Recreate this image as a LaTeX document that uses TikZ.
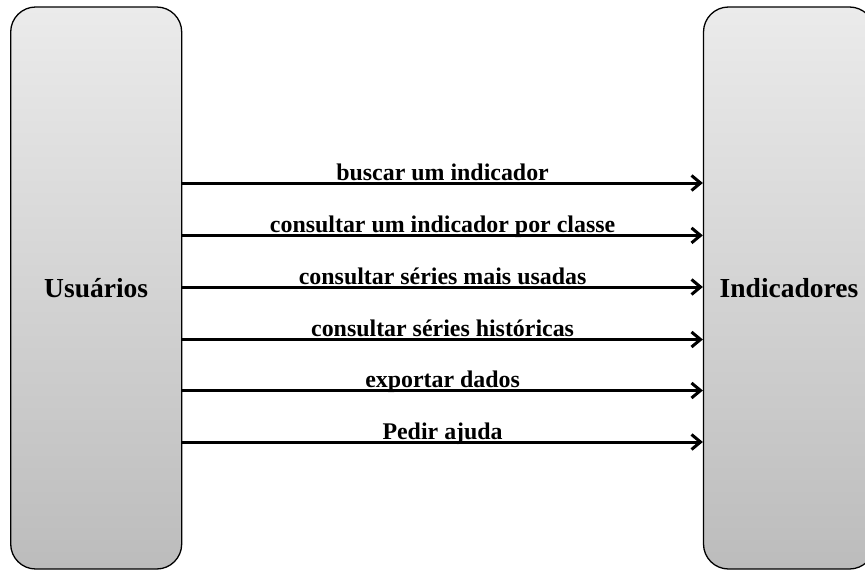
\documentclass[tikz,border=0pt]{standalone}
\usepackage{fontspec}
\setmainfont{Liberation Serif}
\usetikzlibrary{arrows.meta}

\definecolor{boxtop}{HTML}{EBEBEB}
\definecolor{boxbottom}{HTML}{BCBCBC}

\tikzset{
  actor/.style={draw=black, line width=1.3pt, rounded corners=25pt,
    top color=boxtop, bottom color=boxbottom,
    minimum width=#1, minimum height=562pt, inner sep=0pt,
    font=\fontsize{27.5}{32}\selectfont\bfseries},
  conn/.style={line width=3pt, -{Straight Barb[length=9pt,width=15pt,line width=3pt]}},
  msg/.style={midway, anchor=base, yshift=3pt, inner sep=0pt,
    font=\fontsize{23.9}{28}\selectfont\bfseries}
}

\begin{document}
\begin{tikzpicture}[x=1pt, y=-1pt]
  \useasboundingbox (0,0) rectangle (865,570);
  \clip (0,0) rectangle (865,570);

  % the two participants
  \node[actor=171pt] (users) at (96.2,288) {Usuários};
  \node[actor=171pt] (ind) at (789,288) {Indicadores};

  % rows of the messages
  \coordinate (r1) at (0,183);
  \coordinate (r2) at (0,235.4);
  \coordinate (r3) at (0,287);
  \coordinate (r4) at (0,339.5);
  \coordinate (r5) at (0,390.5);
  \coordinate (r6) at (0,442);

  \draw[conn] (users.east |- r1) -- (ind.west |- r1) node[msg] {buscar um indicador};
  \draw[conn] (users.east |- r2) -- (ind.west |- r2) node[msg] {consultar um indicador por classe};
  \draw[conn] (users.east |- r3) -- (ind.west |- r3) node[msg] {consultar séries mais usadas};
  \draw[conn] (users.east |- r4) -- (ind.west |- r4) node[msg] {consultar séries históricas};
  \draw[conn] (users.east |- r5) -- (ind.west |- r5) node[msg] {exportar dados};
  \draw[conn] (users.east |- r6) -- (ind.west |- r6) node[msg] {Pedir ajuda};
\end{tikzpicture}
\end{document}
